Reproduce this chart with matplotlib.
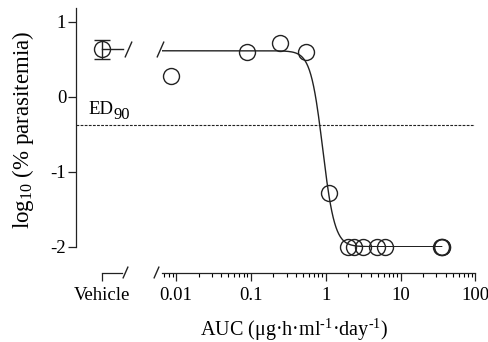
import numpy as np
import matplotlib.pyplot as plt
from matplotlib.path import Path
plt.switch_backend('agg')

plt.rcParams['font.family'] = ['Liberation Serif', 'DejaVu Serif']
plt.rcParams['font.size'] = 13.5
plt.rcParams['mathtext.fontset'] = 'custom'
plt.rcParams['mathtext.rm'] = 'Liberation Serif'
plt.rcParams['mathtext.it'] = 'Liberation Serif:italic'
plt.rcParams['mathtext.default'] = 'regular'
plt.rcParams['axes.unicode_minus'] = False

# data
vehicle_mean = 0.63
vehicle_err = 0.13
auc = [0.0086, 0.088, 0.244, 0.55, 1.1, 1.99, 2.37, 3.16, 4.9, 6.1, 34.5, 35.3, 36.0]
log_para = [0.28, 0.60, 0.71, 0.60, -1.29, -2.0, -2.0, -2.0, -2.0, -2.0, -2.0, -2.0, -2.0]
top, bottom, ec50, hill = 0.61, -2.0, 0.91, 5.4
ed90 = -0.38
xticks = [0.01, 0.1, 1, 10, 100]
xticklabels = ['0.01', '0.1', '1', '10', '100']
yticks = [-2, -1, 0, 1]

col = '#222222'
W, H = 489, 342
fig = plt.figure(figsize=(W / 100, H / 100), dpi=100)

def px(l, t, r, b):
    return [l / W, 1 - b / H, (r - l) / W, (b - t) / H]

ax_v = fig.add_axes(px(76, 8, 162, 246.7))
ax = fig.add_axes(px(162, 8, 475.5, 246.7), sharey=ax_v)
ax_v.set_ylim(-2, 1.18)

for a in (ax_v, ax):
    a.spines['top'].set_visible(False)
    a.spines['right'].set_visible(False)
    a.spines['bottom'].set_position(('outward', 19))
    for s in a.spines.values():
        s.set_color(col)
        s.set_linewidth(0.9)
    a.tick_params(colors=col, labelcolor='black', width=0.9)
    a.patch.set_visible(False)

# vehicle part
ax_v.set_xlim(0, 1)
veh_x = 0.3
ax_v.spines['bottom'].set_bounds(veh_x, 0.53)
ax_v.set_xticks([veh_x])
ax_v.set_xticklabels(['Vehicle'])
ax_v.tick_params(axis='x', length=6, pad=4)
ax_v.set_yticks(yticks)
ax_v.set_yticklabels([str(v) for v in yticks])
ax_v.tick_params(axis='y', length=6, pad=1)
ax_v.errorbar([veh_x], [vehicle_mean], yerr=[vehicle_err], fmt='o', ms=11.5,
              mfc='none', mec=col, mew=1.0, ecolor=col, elinewidth=1.0,
              capsize=6, capthick=1.0, clip_on=False)
ax_v.plot([veh_x, 0.547], [vehicle_mean, vehicle_mean], color=col, lw=1.0)
ax_v.axhline(ed90, color=col, lw=0.8, ls=(0, (2.5, 1.2)))
ax_v.text(0.143, -0.231, 'ED', ha='left', va='baseline', fontsize=13.5)
ax_v.annotate('90', xy=(0.143, -0.231), xytext=(18.5, -3.6), textcoords='offset points',
              ha='left', va='baseline', fontsize=12)

# slash markers for the axis break
slash = Path([(-0.22, -0.5), (0.22, 0.5)], [Path.MOVETO, Path.LINETO])
for xs in (0.567, 0.93):
    ax_v.plot([xs], [-0.108], marker=slash, ms=8.6, mew=1.0, color=col,
              transform=ax_v.get_xaxis_transform(), clip_on=False)
for xs in (0.608, 0.98):
    ax_v.plot([xs], [vehicle_mean], marker=slash, ms=11.5, mew=1.0, color=col,
              clip_on=False)

# drug part
ax.set_xscale('log')
ax.set_xlim(0.0065, 100)
ax.spines['left'].set_visible(False)
ax.tick_params(axis='y', left=False, labelleft=False)
ax.set_xticks(xticks)
ax.set_xticklabels(xticklabels)
ax.xaxis.set_minor_locator(plt.matplotlib.ticker.LogLocator(base=10, subs=np.arange(2, 10)))
ax.xaxis.set_minor_formatter(plt.NullFormatter())
ax.tick_params(axis='x', which='major', length=6, pad=4)
ax.tick_params(axis='x', which='minor', length=3, width=0.8)

xx = np.logspace(np.log10(0.0066), np.log10(35.3), 400)
yy = bottom + (top - bottom) / (1 + (xx / ec50) ** hill)
ax.plot(xx, yy, color=col, lw=1.0)
ax.axhline(ed90, color=col, lw=0.8, ls=(0, (2.5, 1.2)))
ax.plot(auc, log_para, 'o', ms=11.5, mfc='none', mec=col, mew=1.0, clip_on=False)

fig.text(23 / W, 1 - 129.5 / H, 'log$_{10}$ (% parasitemia)', rotation=90,
         ha='center', va='center', fontsize=16.5)
fig.text(294 / W, 1 - 335.5 / H, 'AUC (μg·h·ml$^{\\text{-1}}$·day$^{\\text{-1}}$)',
         ha='center', va='baseline', fontsize=14.5)

fig.savefig('out.png', dpi=100)
